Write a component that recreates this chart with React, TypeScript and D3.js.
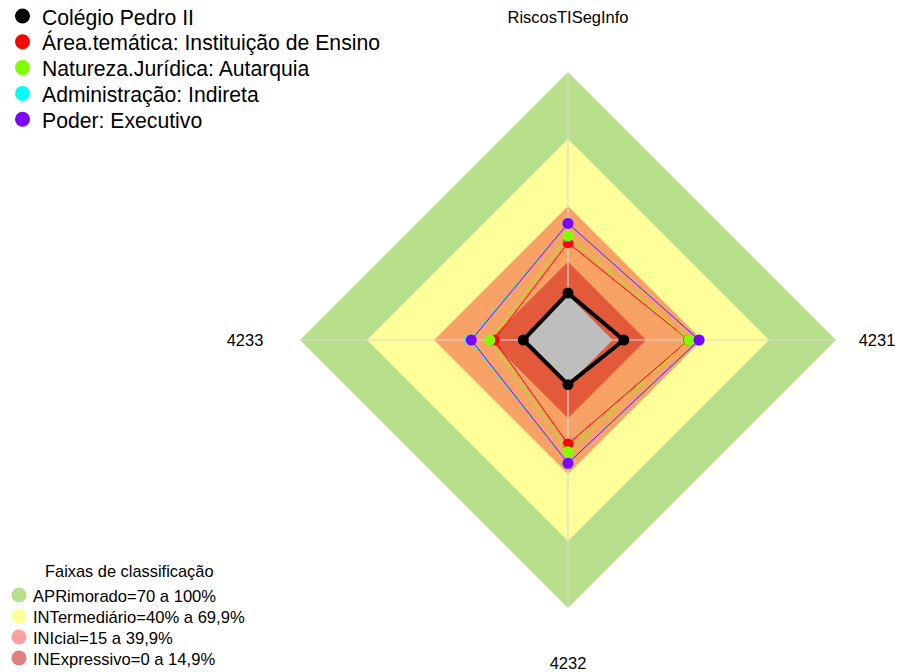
import React, { useEffect } from 'react'
import * as d3 from 'd3'

// eixos, no sentido horario a partir do topo
const categories = ['RiscosTISegInfo', '4231', '4232', '4233']

const seriesNames = [
  'Colégio Pedro II',
  'Área.temática: Instituição de Ensino',
  'Natureza.Jurídica: Autarquia',
  'Administração: Indireta',
  'Poder: Executivo',
]
const seriesColors = ['#000000', '#ff0000', '#80ff00', '#00ffff', '#8000ff']

const colegio = [1, 5, 0, 0]
const area = [23.6, 34, 26.6, 13.1]
const natureza = [26.6, 34.2, 30, 15]
const administracao = [32.2, 38.7, 35.2, 24]
const poder = [32.2, 38.7, 35.2, 23.3]

const bandLimits = [100, 70, 40, 15]
const bandColors = ['#b8e08c', '#ffff99', '#f9a266', '#e25a3a']
const bandLabels = [
  'APRimorado=70 a 100%',
  'INTermediário=40% a 69,9%',
  'INIcial=15 a 39,9%',
  'INExpressivo=0 a 14,9%',
]
const bandLegendColors = ['#b8e08c', '#ffff99', '#ffa0a0', '#dc8080']

const W = 909
const H = 672
const cx = 568
const cy = 340
const R = 268
const font = 'Liberation Sans, Arial, sans-serif'

export default function App() {
  useEffect(() => {
    document.body.style.margin = '0'
  }, [])

  const data = [colegio, area, natureza, administracao, poder]
  const n = categories.length
  const angle = d3.scaleLinear().domain([0, n]).range([0, 2 * Math.PI])
  const r = d3.scaleLinear().domain([0, 100]).range([R / 6, R])

  const radial = d3
    .lineRadial<number>()
    .angle((d, i) => angle(i))
    .radius((d) => r(d))
    .curve(d3.curveLinearClosed)

  const pt = (v: number, i: number) => {
    const a = angle(i) - Math.PI / 2
    return [Math.cos(a) * r(v), Math.sin(a) * r(v)]
  }

  const labelPos = [
    { x: cx, y: 17 },
    { x: 877, y: cy },
    { x: cx, y: 663 },
    { x: 245, y: cy },
  ]

  return (
    <svg width={W} height={H} style={{ display: 'block', background: '#fff' }} fontFamily={font}>
      <g transform={`translate(${cx},${cy})`}>
        {bandLimits.map((b, k) => (
          <path key={k} d={radial(categories.map(() => b)) || ''} fill={bandColors[k]} />
        ))}
        {categories.map((c, i) => {
          const [x, y] = pt(100, i)
          return <line key={c} x1={0} y1={0} x2={x} y2={y} stroke="#dadada" strokeWidth={1.2} />
        })}
        <path d={radial(categories.map(() => 0)) || ''} fill="#bebebe" />
        {data.map((s, k) => (
          <g key={k}>
            <path
              d={radial(s) || ''}
              fill="none"
              stroke={seriesColors[k]}
              strokeWidth={k === 0 ? 4 : 1}
              strokeLinejoin="round"
            />
            {s.map((v, i) => {
              const [x, y] = pt(v, i)
              return <circle key={i} cx={x} cy={y} r={5.5} fill={seriesColors[k]} />
            })}
          </g>
        ))}
      </g>

      {categories.map((c, i) => (
        <text
          key={c}
          x={labelPos[i].x}
          y={labelPos[i].y}
          textAnchor="middle"
          dominantBaseline="central"
          fontSize={16.5}
        >
          {c}
        </text>
      ))}

      {seriesNames.map((s, k) => (
        <g key={s} transform={`translate(0,${16 + k * 25.8})`}>
          <circle cx={22.5} cy={0} r={7.5} fill={seriesColors[k]} />
          <text x={42} y={1} dominantBaseline="central" fontSize={21.2}>
            {s}
          </text>
        </g>
      ))}

      <text x={45} y={571} dominantBaseline="central" fontSize={16.4}>
        Faixas de classificação
      </text>
      {bandLabels.map((s, k) => (
        <g key={s} transform={`translate(0,${595 + k * 21})`}>
          <circle cx={19} cy={0} r={7.5} fill={bandLegendColors[k]} />
          <text x={33} y={1} dominantBaseline="central" fontSize={16.6}>
            {s}
          </text>
        </g>
      ))}
    </svg>
  )
}
